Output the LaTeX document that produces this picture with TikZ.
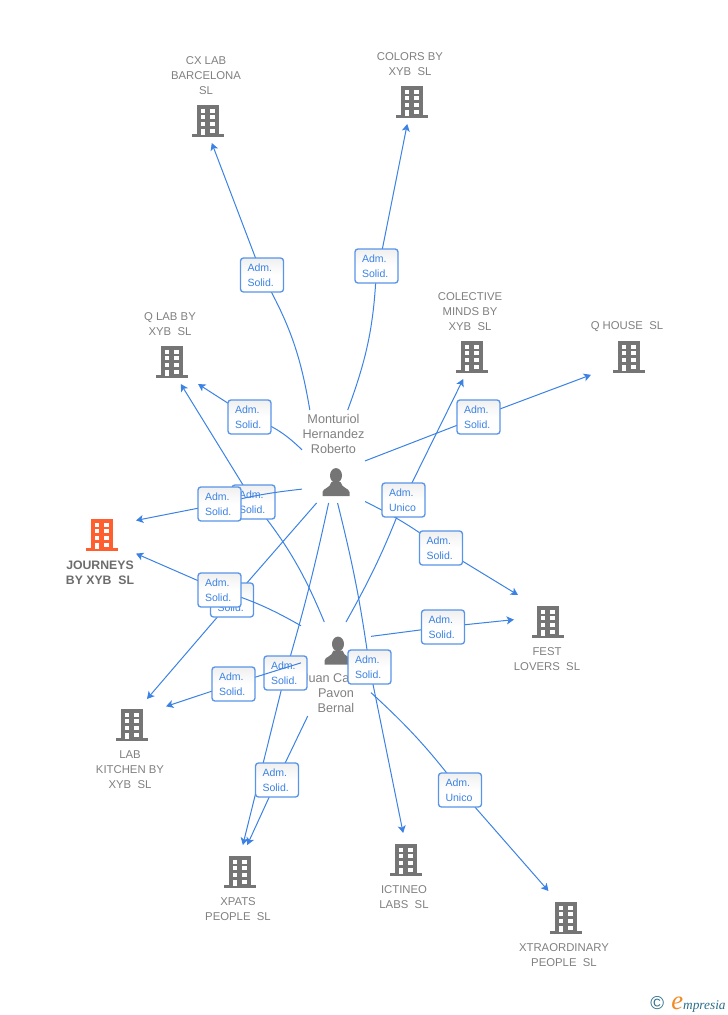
\documentclass[tikz,border=0pt]{standalone}
\usepackage{xcolor}
\usepackage{fontspec}
\setmainfont{Liberation Sans}
\newfontfamily\logofont{Liberation Serif}
\usetikzlibrary{arrows.meta}
\definecolor{linkblue}{HTML}{3B82E4}
\definecolor{iconfill}{HTML}{757575}
\definecolor{iconhot}{HTML}{FF5F2E}
\definecolor{labelgray}{HTML}{808080}
\definecolor{logoteal}{HTML}{2B6E8C}
\definecolor{logoorange}{HTML}{F08A24}
\tikzset{
	corpbox/.style={minimum width=51pt,minimum height=40.5pt,inner sep=0pt,outer sep=0pt},
	personbox/.style={inner sep=0pt,outer sep=0pt},
	namelabel/.style={align=center,text=labelgray,inner sep=0pt,yshift=-.75pt,font=\fontsize{8.5}{11.25}\selectfont},
	personlabel/.style={namelabel,font=\fontsize{9.5}{11.25}\selectfont},
	hotlabel/.style={align=center,text=labelgray!85!black,inner sep=0pt,yshift=-.75pt,font=\fontsize{9.2}{11.25}\selectfont\bfseries},
	admbox/.style={draw=linkblue!85!white,line width=1pt,rounded corners=2.2pt,top color=black!6,bottom color=white,middle color=white,
		text=linkblue,minimum width=32.25pt,minimum height=25.5pt,text width=21.75pt,inner xsep=5.25pt,inner ysep=0pt,outer sep=0pt,
		align=left,font=\fontsize{7.9}{11.25}\selectfont},
	link/.style={draw=linkblue,line width=.75pt},
	tolink/.style={link,-{Stealth[length=5.5pt,width=6pt,inset=1.4pt]}},
	pics/corpicon/.style={code={
		\fill[#1] (-11,-16) rectangle (11,14);
		\fill[#1] (-16,13) rectangle (16,16);
		\foreach \yy in {-12.3,-5.7,1} {
			\fill[white] (-7.5,\yy) rectangle (-3.2,\yy+4);
			\fill[white] (1.8,\yy) rectangle (6.5,\yy+4);
		}
		\fill[white] (-7.5,7.7) rectangle (-3.2,14);
		\fill[white] (1.8,7.7) rectangle (6.5,11.7);
	}},
	pics/personicon/.style={code={
		\fill[iconfill] (0,-6.5) ellipse (6 and 7.4);
		\fill[iconfill] (-13.5,14) -- (-13.5,10) .. controls (-13,6) and (-6,6.5) .. (-4.5,0) -- (4.5,0) .. controls (6,6.5) and (13,6) .. (13.5,10) -- (13.5,14) -- cycle;
	}},
}
\begin{document}
\begin{tikzpicture}[x=.75pt,y=-.75pt]
	\useasboundingbox (0,0) rectangle (728,1015);
	
	\pic at (208,121) {corpicon=iconfill};
	\node[namelabel] (cxName) at (206,75) {CX LAB\\BARCELONA\\SL};
	\node[corpbox] (cx) at (208,116) {};
	\pic at (412,102) {corpicon=iconfill};
	\node[namelabel] (colorsName) at (410,63.5) {COLORS BY\\XYB\ \ SL};
	\node[corpbox] (colors) at (412,97) {};
	\pic at (172,362) {corpicon=iconfill};
	\node[namelabel] (qlabName) at (170,323.5) {Q LAB BY\\XYB\ \ SL};
	\node[corpbox] (qlab) at (172,357) {};
	\pic at (472,357) {corpicon=iconfill};
	\node[namelabel] (colectiveName) at (470,311) {COLECTIVE\\MINDS BY\\XYB\ \ SL};
	\node[corpbox] (colective) at (472,352) {};
	\pic at (629,357) {corpicon=iconfill};
	\node[namelabel] (qhouseName) at (627,326) {Q HOUSE\ \ SL};
	\node[corpbox,minimum width=57pt] (qhouse) at (629,352) {};
	\pic at (102,535) {corpicon=iconhot};
	\node[hotlabel] (journeysName) at (100,572) {JOURNEYS\\BY XYB\ \ SL};
	\node[corpbox] (journeys) at (102,537) {};
	\pic at (548,622) {corpicon=iconfill};
	\node[namelabel] (festName) at (547,658.5) {FEST\\LOVERS\ \ SL};
	\node[corpbox] (fest) at (548,622) {};
	\pic at (132,725) {corpicon=iconfill};
	\node[namelabel] (kitchenName) at (130,769) {LAB\\KITCHEN BY\\XYB\ \ SL};
	\node[corpbox] (kitchen) at (132,726) {};
	\pic at (240,872) {corpicon=iconfill};
	\node[namelabel] (xpatsName) at (238,908.5) {XPATS\\PEOPLE\ \ SL};
	\node[corpbox] (xpats) at (240,872) {};
	\pic at (406,860) {corpicon=iconfill};
	\node[namelabel] (ictineoName) at (404,896.5) {ICTINEO\\LABS\ \ SL};
	\node[corpbox] (ictineo) at (406,860) {};
	\pic at (566,918) {corpicon=iconfill};
	\node[namelabel] (xtraName) at (564,954.5) {XTRAORDINARY\\PEOPLE\ \ SL};
	\node[corpbox] (xtra) at (566,918) {};
	
	\pic at (336,482) {personicon};
	\node[personlabel] (monName) at (333.5,433) {Monturiol\\Hernandez\\Roberto};
	\node[personbox,minimum width=47.25pt,minimum height=69.75pt] (mon) at (333.5,456.5) {};
	\pic at (338,650.5) {personicon};
	\node[personlabel] (juanName) at (336,692) {Juan Carlos\\Pavon\\Bernal};
	\node[personbox,minimum width=52.5pt,minimum height=70.5pt] (juan) at (336,669) {};
	
	\draw[tolink] (mon.117.8) to[bend right=10] (262,275) node[admbox] (admCx) {Adm.\\Solid.} (admCx) -- (cx.-82);
	\draw[tolink] (mon.73.8) to[bend right=9] (376.5,266) node[admbox] (admColors) {Adm.\\Solid.} (admColors.71) -- (colors.-100);
	\draw[tolink] (mon.168.3) to[bend right=12] (249.5,417) node[admbox] (admQlab) {Adm.\\Solid.} (admQlab) -- (qlab.-46);
	\draw[tolink] (mon.-8.1) -- (478.5,417) node[admbox] (admQhouse) {Adm.\\Solid.} (admQhouse) -- (qhouse.-149);
	\draw[tolink] (juan.104.3) to[bend right=8] (253.5,502) node[admbox] (admQlabB) {Adm.\\Solid.} (admQlabB) -- (qlab.-72);
	\draw[tolink] (mon.226.8) to[bend right=4] (219.5,504) node[admbox] (admJourneys) {Adm.\\Solid.} (admJourneys) -- (journeys.26.6);
	\draw[tolink] (mon.-110.6) -- (232,600) node[admbox] (admKitchen) {Adm.\\Solid.} (admKitchen) -- (kitchen.61);
	\draw[tolink] (juan.129) to[bend right=6] (219.5,590) node[admbox] (admJourneysB) {Adm.\\Solid.} (admJourneysB) -- (journeys.-26.6);
	\draw[tolink] (mon.-96.7) to[bend left=2] (285.5,673) node[admbox] (admXpats) {Adm.\\Solid.} (admXpats) -- (xpats.84);
	\draw[tolink] (juan.170.3) -- (233.5,684) node[admbox] (admKitchenB) {Adm.\\Solid.} (admKitchenB) -- (kitchen.30);
	\draw[tolink] (mon.-85.7) to[bend left=3] (369.5,667) node[admbox] (admIctineo) {Adm.\\Solid.} (admIctineo) -- (ictineo.96);
	\draw[tolink] (juan.-121.7) -- (277,780) node[admbox] (admXpatsB) {Adm.\\Solid.} (admXpatsB) -- (xpats.75);
	\draw[tolink] (mon.-55.9) to[bend left=5] (441,548) node[admbox] (admFest) {Adm.\\Solid.} (admFest) -- (fest.138);
	\draw[tolink] (juan.43.3) -- (443,627) node[admbox] (admFestB) {Adm.\\Solid.} (admFestB) -- (fest.176.6);
	\draw[tolink] (juan.-34.4) to[bend left=5] (460,790) node[admbox] (admXtra) {Adm.\\Unico} (admXtra) -- (xtra.123.7);
	\draw[tolink] (juan.78) to[bend right=4] (403.5,500) node[admbox] (admColective) {Adm.\\Unico} (admColective) -- (colective.-108);
	
	\node[inner sep=0pt,anchor=base west] (logo) at (650,1009) {\textcolor{logoteal}{\fontsize{14}{14}\selectfont©}\hspace{5.5pt}\logofont\itshape\textcolor{logoorange}{\fontsize{20}{20}\selectfont e}\textcolor{logoteal}{\fontsize{10}{10}\selectfont mpresia}};
\end{tikzpicture}
\end{document}
